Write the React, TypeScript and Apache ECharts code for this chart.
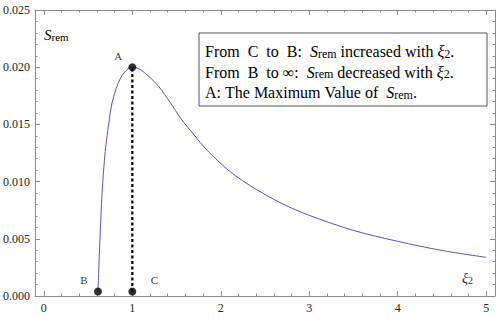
import React, { useEffect, useRef } from 'react';
import * as echarts from 'echarts';

// ---- data ----
const curveX = [0.612, 0.62, 0.63, 0.642, 0.655, 0.67, 0.69, 0.71, 0.736, 0.766, 0.8, 0.84, 0.886, 0.93, 0.97, 1.0,
  1.05, 1.1, 1.2, 1.3, 1.43, 1.55, 1.69, 1.85, 2.07, 2.2, 2.4, 2.7, 3.0, 3.5, 4.0, 4.5, 5.0];
const curveY = [0.0004, 0.0021, 0.0041, 0.0064, 0.0085, 0.0104, 0.0123, 0.0137, 0.0152, 0.0167, 0.0177, 0.0186, 0.0193, 0.0197, 0.01995, 0.02,
  0.01993, 0.01975, 0.0191, 0.0183, 0.0169, 0.0155, 0.01416, 0.0127, 0.0111, 0.01033, 0.00932, 0.00805, 0.00705, 0.00573, 0.00478, 0.00398, 0.00338];

const pointNames = ['B', 'C', 'A'];
const pointX = [0.612, 1, 1];
const pointY = [0.0004, 0.0004, 0.02];

const dropX = [1, 1];
const dropY = [0.0004, 0.02];

const xRange = [-0.1, 5.1];
const yRange = [0, 0.025];
const yStep = 0.005;

const SERIF = 'Liberation Serif, DejaVu Serif, serif';
const FRAME = '#8c8c8c';

const labelOffsets: Record<string, [number, number]> = {
  A: [-14, -11],
  B: [-14, -11],
  C: [22, -11],
};

const axisRich = {
  i: { fontFamily: SERIF, fontSize: 15, fontStyle: 'italic', fill: '#000', lineHeight: 18, verticalAlign: 'bottom' },
  s: { fontFamily: SERIF, fontSize: 11, fill: '#000', lineHeight: 12, verticalAlign: 'bottom' },
};

const boxRich = {
  n: { fontFamily: SERIF, fontSize: 16, fill: '#000', lineHeight: 19, verticalAlign: 'bottom' },
  i: { fontFamily: SERIF, fontSize: 16, fontStyle: 'italic', fill: '#000', lineHeight: 19, verticalAlign: 'bottom' },
  s: { fontFamily: SERIF, fontSize: 12, fill: '#000', lineHeight: 13, verticalAlign: 'bottom' },
};

const NB = '\u00a0';

function App() {
  const ref = useRef<HTMLDivElement>(null);
  useEffect(() => {
    document.body.style.margin = '0';
    if (!ref.current) return;
    const chart = echarts.init(ref.current, null, { renderer: 'svg' });

    const xAxisBase = (pos: 'bottom' | 'top', labels: boolean) => ({
      type: 'value',
      position: pos,
      min: xRange[0],
      max: xRange[1],
      splitNumber: 5,
      axisLine: { show: true, onZero: false, lineStyle: { color: FRAME, width: 1 } },
      axisTick: { show: true, inside: true, length: 5, lineStyle: { color: FRAME } },
      minorTick: { show: true, splitNumber: 5, length: 2.5, lineStyle: { color: FRAME } },
      splitLine: { show: false },
      axisLabel: {
        show: labels,
        color: '#222',
        fontFamily: SERIF,
        fontSize: 12,
        margin: 6,
        formatter: (v: number) => (Math.abs(v - Math.round(v)) < 1e-9 ? String(Math.round(v)) : ''),
      },
    });
    const yAxisBase = (pos: 'left' | 'right', labels: boolean) => ({
      type: 'value',
      position: pos,
      min: yRange[0],
      max: yRange[1],
      interval: yStep,
      axisLine: { show: true, onZero: false, lineStyle: { color: FRAME, width: 1 } },
      axisTick: { show: true, inside: true, length: 5, lineStyle: { color: FRAME } },
      minorTick: { show: true, splitNumber: 5, length: 2.5, lineStyle: { color: FRAME } },
      splitLine: { show: false },
      axisLabel: {
        show: labels,
        color: '#222',
        fontFamily: SERIF,
        fontSize: 12,
        margin: 5,
        formatter: (v: number) => v.toFixed(3),
      },
    });

    const legendLines = [
      `{n|From${NB}${NB}C${NB}${NB}to${NB}${NB}B:${NB}${NB}}{i|S}{s|rem}{n|${NB}increased${NB}with${NB}}{i|ξ}{s|2}{n|.}`,
      `{n|From${NB}${NB}B${NB}${NB}to${NB}∞:${NB}${NB}}{i|S}{s|rem}{n|${NB}decreased${NB}with${NB}}{i|ξ}{s|2}{n|.}`,
      `{n|A:${NB}The${NB}Maximum${NB}Value${NB}of${NB}${NB}}{i|S}{s|rem}{n|.}`,
    ];
    const lineCenters = [50, 70.5, 91];

    chart.setOption({
      animation: false,
      backgroundColor: '#fff',
      grid: { left: 34, right: 3, top: 10, bottom: 22 },
      xAxis: [xAxisBase('bottom', true), xAxisBase('top', false)],
      yAxis: [yAxisBase('left', true), yAxisBase('right', false)],
      series: [
        {
          type: 'line',
          data: curveX.map((x, k) => [x, curveY[k]]),
          showSymbol: false,
          smooth: 0.3,
          lineStyle: { color: '#5656ae', width: 1 },
          z: 2,
        },
        {
          type: 'line',
          data: dropX.map((x, k) => [x, dropY[k]]),
          showSymbol: false,
          lineStyle: { color: '#000', width: 2.2, type: [3, 2.5] },
          z: 3,
        },
        {
          type: 'scatter',
          symbolSize: 8,
          itemStyle: { color: '#000' },
          z: 4,
          data: pointNames.map((n, k) => ({
            name: n,
            value: [pointX[k], pointY[k]],
            label: {
              show: true,
              position: 'inside',
              offset: labelOffsets[n],
              formatter: n,
              color: '#000',
              fontFamily: SERIF,
              fontSize: 11,
            },
          })),
        },
      ],
      graphic: [
        {
          type: 'text',
          x: 44,
          y: 33,
          style: {
            text: '{i|S}{s|rem}',
            rich: axisRich,
            verticalAlign: 'middle',
            align: 'left',
          },
        },
        {
          type: 'text',
          x: 462,
          y: 277,
          style: {
            text: '{i|ξ}{s|2}',
            rich: {
              i: { fontFamily: SERIF, fontSize: 14, fontStyle: 'italic', fill: '#333', lineHeight: 17, verticalAlign: 'bottom' },
              s: { fontFamily: SERIF, fontSize: 10, fill: '#333', lineHeight: 11, verticalAlign: 'bottom' },
            },
            verticalAlign: 'middle',
            align: 'left',
          },
        },
        {
          type: 'rect',
          shape: { x: 199, y: 33, width: 288, height: 73 },
          style: { fill: '#fff', stroke: '#555', lineWidth: 1 },
          z: 10,
        },
        ...legendLines.map((t, k) => ({
          type: 'text',
          x: 205,
          y: lineCenters[k],
          z: 11,
          style: { text: t, rich: boxRich, verticalAlign: 'middle', align: 'left' },
        })),
      ],
    });
    return () => chart.dispose();
  }, []);
  return <div ref={ref} style={{ width: 498, height: 318 }} />;
}

export default App;
